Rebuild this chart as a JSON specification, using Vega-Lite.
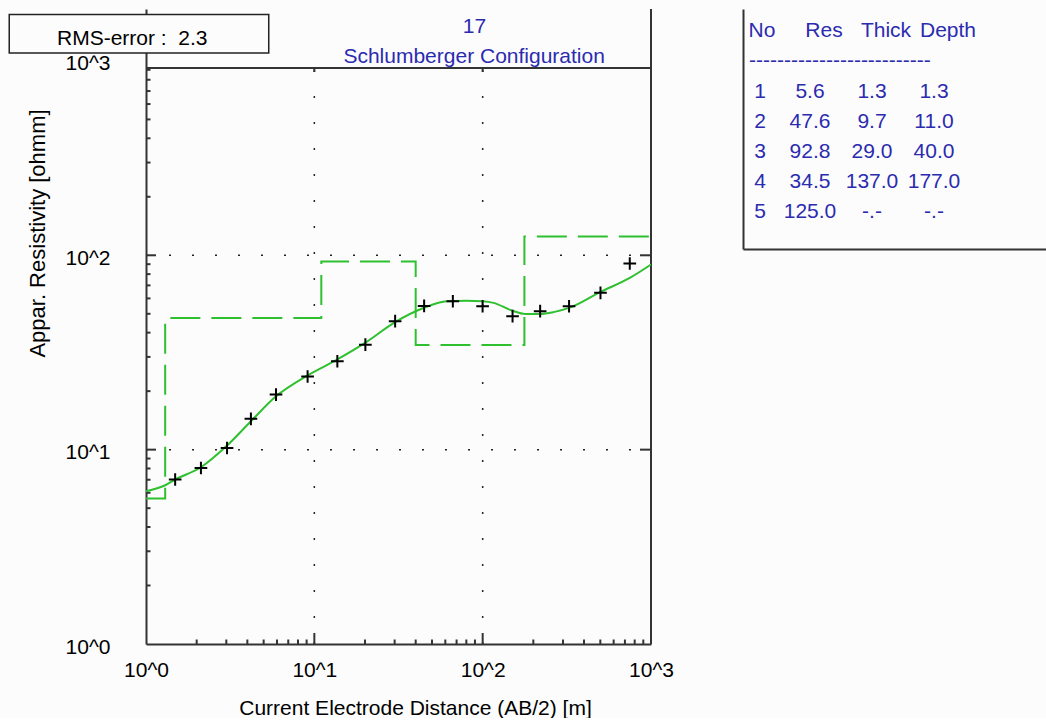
{
  "$schema": "https://vega.github.io/schema/vega-lite/v6.json",
  "background": "#fcfcfc",
  "padding": {"left": 8, "top": 8, "right": 0, "bottom": 0},
  "config": {
    "view": {"stroke": null},
    "font": "Liberation Sans, Arial, sans-serif",
    "text": {"font": "Liberation Sans, Arial, sans-serif"}
  },
  "datasets": {
    "soundings": [
      {"x": 1.49, "y": 7.02}, {"x": 2.12, "y": 8.05}, {"x": 3.03, "y": 10.2}, {"x": 4.2, "y": 14.4},
      {"x": 5.92, "y": 19.2}, {"x": 9.12, "y": 23.8}, {"x": 13.7, "y": 28.5}, {"x": 20.1, "y": 34.7},
      {"x": 30.2, "y": 45.8}, {"x": 44.9, "y": 54.9}, {"x": 66.5, "y": 58.0}, {"x": 99.9, "y": 54.7},
      {"x": 150.5, "y": 48.6}, {"x": 219.5, "y": 51.6}, {"x": 326, "y": 54.7}, {"x": 501, "y": 64.1},
      {"x": 748, "y": 90.7}
    ],
    "fit": [
      {"x": 1, "y": 6.11}, {"x": 1.3, "y": 6.56}, {"x": 1.49, "y": 7.02}, {"x": 2.12, "y": 8.12},
      {"x": 3.03, "y": 10.5}, {"x": 4.2, "y": 14.0}, {"x": 5.92, "y": 18.8}, {"x": 9.12, "y": 24.1},
      {"x": 13.7, "y": 29.1}, {"x": 20.1, "y": 35.5}, {"x": 30.2, "y": 45.3}, {"x": 44.9, "y": 53.7},
      {"x": 61.3, "y": 58.0}, {"x": 80, "y": 58.4}, {"x": 99.9, "y": 58.0}, {"x": 116, "y": 56.9},
      {"x": 149, "y": 52.0}, {"x": 179, "y": 49.9}, {"x": 219.5, "y": 49.9}, {"x": 264, "y": 51.0},
      {"x": 326, "y": 53.6}, {"x": 501, "y": 64.8}, {"x": 748, "y": 76.5}, {"x": 1000, "y": 89.7}
    ],
    "model": [
      {"x": 1, "y": 5.6}, {"x": 1.3, "y": 47.6}, {"x": 11, "y": 92.8}, {"x": 40, "y": 34.5},
      {"x": 177, "y": 125}, {"x": 1000, "y": 125}
    ],
    "major": [{"x": 10, "y": 10}, {"x": 100, "y": 100}],
    "minor": [
      {"x": 2, "y": 2}, {"x": 3, "y": 3}, {"x": 4, "y": 4}, {"x": 5, "y": 5}, {"x": 6, "y": 6}, {"x": 7, "y": 7}, {"x": 8, "y": 8}, {"x": 9, "y": 9},
      {"x": 20, "y": 20}, {"x": 30, "y": 30}, {"x": 40, "y": 40}, {"x": 50, "y": 50}, {"x": 60, "y": 60}, {"x": 70, "y": 70}, {"x": 80, "y": 80}, {"x": 90, "y": 90},
      {"x": 200, "y": 200}, {"x": 300, "y": 300}, {"x": 400, "y": 400}, {"x": 500, "y": 500}, {"x": 600, "y": 600}, {"x": 700, "y": 700}, {"x": 800, "y": 800}, {"x": 900, "y": 900}
    ],
    "layers": [
      {"No": 1, "Res": 5.6, "Thick": 1.3, "Depth": 1.3},
      {"No": 2, "Res": 47.6, "Thick": 9.7, "Depth": 11.0},
      {"No": 3, "Res": 92.8, "Thick": 29.0, "Depth": 40.0},
      {"No": 4, "Res": 34.5, "Thick": 137.0, "Depth": 177.0},
      {"No": 5, "Res": 125.0, "Thick": null, "Depth": null}
    ]
  },
  "bounds": "flush",
  "spacing": 92,
  "hconcat": [
    {
      "width": 505,
      "height": 635,
      "layer": [
        {
          "data": {"name": "major"},
          "mark": {"type": "rule", "strokeDash": [2, 24], "strokeWidth": 1.5, "color": "#222222"},
          "encoding": {
            "x": {"field": "x", "type": "quantitative", "scale": {"type": "log", "domain": [1, 1000], "nice": false}},
            "y": {"datum": 1, "type": "quantitative", "scale": {"type": "log", "domain": [1, 1850], "nice": false}},
            "y2": {"datum": 920}
          }
        },
        {
          "data": {"name": "major"},
          "mark": {"type": "rule", "strokeDash": [2, 21], "strokeWidth": 1.5, "color": "#222222"},
          "encoding": {
            "y": {"field": "y", "type": "quantitative", "scale": {"type": "log", "domain": [1, 1850], "nice": false}},
            "x": {"datum": 1, "type": "quantitative", "scale": {"type": "log", "domain": [1, 1000], "nice": false}},
            "x2": {"datum": 1000}
          }
        },
        {
          "data": {"values": [{}]},
          "mark": {"type": "rule", "strokeWidth": 2, "color": "#333333"},
          "encoding": {
            "y": {"datum": 920, "type": "quantitative", "scale": {"type": "log", "domain": [1, 1850], "nice": false}},
            "x": {"datum": 1, "type": "quantitative", "scale": {"type": "log", "domain": [1, 1000], "nice": false}},
            "x2": {"datum": 1000}
          }
        },
        {
          "data": {"values": [{}]},
          "mark": {"type": "rule", "strokeWidth": 2, "color": "#333333"},
          "encoding": {
            "x": {"datum": 1000, "type": "quantitative", "scale": {"type": "log", "domain": [1, 1000], "nice": false}},
            "y": {"datum": 1, "type": "quantitative", "scale": {"type": "log", "domain": [1, 1850], "nice": false}},
            "y2": {"datum": 1850}
          }
        },
        {
          "data": {"name": "minor"},
          "mark": {"type": "tick", "orient": "vertical", "size": 9, "thickness": 2, "color": "#333333", "clip": true, "opacity": 1},
          "encoding": {
            "x": {"field": "x", "type": "quantitative", "scale": {"type": "log", "domain": [1, 1000], "nice": false}},
            "y": {"datum": 1, "type": "quantitative", "scale": {"type": "log", "domain": [1, 1850], "nice": false}}
          }
        },
        {
          "data": {"name": "major"},
          "mark": {"type": "tick", "orient": "vertical", "size": 22, "thickness": 2, "color": "#333333", "clip": true, "opacity": 1},
          "encoding": {
            "x": {"field": "x", "type": "quantitative", "scale": {"type": "log", "domain": [1, 1000], "nice": false}},
            "y": {"datum": 1, "type": "quantitative", "scale": {"type": "log", "domain": [1, 1850], "nice": false}}
          }
        },
        {
          "data": {"name": "minor"},
          "mark": {"type": "tick", "orient": "horizontal", "size": 9, "thickness": 2, "color": "#333333", "clip": true, "opacity": 1},
          "encoding": {
            "y": {"field": "y", "type": "quantitative", "scale": {"type": "log", "domain": [1, 1850], "nice": false}},
            "x": {"datum": 1, "type": "quantitative", "scale": {"type": "log", "domain": [1, 1000], "nice": false}}
          }
        },
        {
          "data": {"name": "major"},
          "mark": {"type": "tick", "orient": "horizontal", "size": 20, "thickness": 2, "color": "#333333", "clip": true, "opacity": 1},
          "encoding": {
            "y": {"field": "y", "type": "quantitative", "scale": {"type": "log", "domain": [1, 1850], "nice": false}},
            "x": {"datum": 1, "type": "quantitative", "scale": {"type": "log", "domain": [1, 1000], "nice": false}}
          }
        },
        {
          "data": {"name": "major"},
          "mark": {"type": "tick", "orient": "horizontal", "size": 22, "thickness": 2, "color": "#333333", "clip": true, "opacity": 1},
          "encoding": {
            "y": {"field": "y", "type": "quantitative", "scale": {"type": "log", "domain": [1, 1850], "nice": false}},
            "x": {"datum": 1000, "type": "quantitative", "scale": {"type": "log", "domain": [1, 1000], "nice": false}}
          }
        },
        {
          "data": {"name": "major"},
          "mark": {"type": "rule", "strokeWidth": 2, "color": "#333333"},
          "encoding": {
            "x": {"field": "x", "type": "quantitative", "scale": {"type": "log", "domain": [1, 1000], "nice": false}},
            "y": {"datum": 920, "type": "quantitative", "scale": {"type": "log", "domain": [1, 1850], "nice": false}},
            "y2": {"datum": 877}
          }
        },
        {
          "data": {"name": "model"},
          "mark": {"type": "line", "interpolate": "step-after", "strokeDash": [30, 11], "strokeWidth": 2, "color": "#2ec02e"},
          "encoding": {
            "x": {"field": "x", "type": "quantitative", "scale": {"type": "log", "domain": [1, 1000], "nice": false}},
            "y": {"field": "y", "type": "quantitative", "scale": {"type": "log", "domain": [1, 1850], "nice": false}}
          }
        },
        {
          "data": {"name": "fit"},
          "mark": {"type": "line", "interpolate": "monotone", "strokeWidth": 2, "color": "#2ec02e"},
          "encoding": {
            "x": {"field": "x", "type": "quantitative", "scale": {"type": "log", "domain": [1, 1000], "nice": false}},
            "y": {"field": "y", "type": "quantitative", "scale": {"type": "log", "domain": [1, 1850], "nice": false}}
          }
        },
        {
          "data": {"name": "soundings"},
          "mark": {"type": "point", "shape": "M-1,0H1M0,-1V1", "size": 160, "filled": false, "stroke": "#000000", "strokeWidth": 2, "opacity": 1},
          "encoding": {
            "x": {
              "field": "x", "type": "quantitative",
              "scale": {"type": "log", "domain": [1, 1000], "nice": false},
              "axis": {
                "values": [1, 10, 100, 1000],
                "labelExpr": "'10^' + round(log(datum.value)/LN10)",
                "ticks": false, "grid": false,
                "domainColor": "#333333", "domainWidth": 2,
                "labelFontSize": 21, "labelColor": "#000000", "labelPadding": 15,
                "labelFlush": false, "labelOverlap": false,
                "title": "Current Electrode Distance (AB/2) [m]",
                "titleFontSize": 21, "titleFontWeight": "normal", "titleColor": "#000000",
                "titleX": 269, "titleY": 64, "titleBaseline": "middle", "titleAlign": "center"
              }
            },
            "y": {
              "field": "y", "type": "quantitative",
              "scale": {"type": "log", "domain": [1, 1850], "nice": false},
              "axis": {
                "values": [1, 10, 100, 1000],
                "labelExpr": "'10^' + round(log(datum.value)/LN10)",
                "ticks": false, "grid": false,
                "domainColor": "#333333", "domainWidth": 2,
                "labelFontSize": 21, "labelColor": "#000000", "labelPadding": 36, "labelOffset": 3,
                "labelBaseline": "middle", "labelOverlap": false, "labelFlush": false,
                "title": "Appar. Resistivity [ohmm]",
                "titleFontSize": 22, "titleFontWeight": "normal", "titleColor": "#000000",
                "titleX": -109, "titleY": 224, "titleBaseline": "middle", "titleAlign": "center", "titleAngle": 270
              }
            }
          }
        },
        {
          "data": {"values": [{}]},
          "mark": {"type": "rect", "fill": "#fcfcfc", "stroke": "#222222", "strokeWidth": 1.5},
          "encoding": {
            "x": {"datum": 0.154, "type": "quantitative", "scale": {"type": "log", "domain": [1, 1000], "nice": false}},
            "x2": {"datum": 5.36},
            "y": {"datum": 1099, "type": "quantitative", "scale": {"type": "log", "domain": [1, 1850], "nice": false}},
            "y2": {"datum": 1732}
          }
        },
        {
          "data": {"values": [{}]},
          "mark": {"type": "text", "align": "left", "baseline": "alphabetic", "fontSize": 21, "color": "#000000"},
          "encoding": {
            "x": {"datum": 0.296, "type": "quantitative", "scale": {"type": "log", "domain": [1, 1000], "nice": false}},
            "y": {"datum": 1204, "type": "quantitative", "scale": {"type": "log", "domain": [1, 1850], "nice": false}},
            "text": {"value": "RMS-error :\u00a0 2.3"}
          }
        },
        {
          "data": {"values": [{}]},
          "mark": {"type": "text", "align": "center", "baseline": "alphabetic", "fontSize": 21, "color": "#2b2bb0"},
          "encoding": {
            "x": {"datum": 89.4, "type": "quantitative", "scale": {"type": "log", "domain": [1, 1000], "nice": false}},
            "y": {"datum": 1392, "type": "quantitative", "scale": {"type": "log", "domain": [1, 1850], "nice": false}},
            "text": {"value": "17"}
          }
        },
        {
          "data": {"values": [{}]},
          "mark": {"type": "text", "align": "center", "baseline": "alphabetic", "fontSize": 21, "color": "#2b2bb0"},
          "encoding": {
            "x": {"datum": 89, "type": "quantitative", "scale": {"type": "log", "domain": [1, 1000], "nice": false}},
            "y": {"datum": 976, "type": "quantitative", "scale": {"type": "log", "domain": [1, 1850], "nice": false}},
            "text": {"value": "Schlumberger Configuration"}
          }
        }
      ]
    },
    {
      "width": 310,
      "height": 240,
      "data": {"name": "layers"},
      "layer": [
        {
          "data": {"values": [{"col": "No"}, {"col": "Res"}, {"col": "Thick"}, {"col": "Depth"}]},
          "mark": {"type": "text", "align": "center", "baseline": "middle", "fontSize": 21, "color": "#2b2bb0", "dx": 2},
          "encoding": {
            "x": {"field": "col", "type": "nominal", "scale": {"type": "point", "domain": ["No", "Res", "Thick", "Depth"], "padding": 1, "align": 0.137},
                  "axis": {"labels": false, "ticks": false, "title": null, "grid": false, "domainColor": "#333333", "domainWidth": 2}},
            "y": {"datum": -1, "type": "quantitative", "scale": {"type": "linear", "domain": [-1.741, 6.232], "reverse": true, "nice": false, "zero": false},
                  "axis": {"labels": false, "ticks": false, "title": null, "grid": false, "domainColor": "#333333", "domainWidth": 2}},
            "text": {"field": "col", "type": "nominal"}
          }
        },
        {
          "data": {"values": [{}]},
          "mark": {"type": "text", "align": "left", "baseline": "middle", "fontSize": 21, "color": "#2b2bb0", "dx": -11},
          "encoding": {
            "x": {"datum": "No", "type": "nominal", "scale": {"type": "point", "domain": ["No", "Res", "Thick", "Depth"], "padding": 1, "align": 0.137}},
            "y": {"datum": 0, "type": "quantitative", "scale": {"type": "linear", "domain": [-1.741, 6.232], "reverse": true, "nice": false, "zero": false}},
            "text": {"value": "--------------------------"}
          }
        },
        {
          "mark": {"type": "text", "align": "center", "baseline": "middle", "fontSize": 21, "color": "#2b2bb0"},
          "encoding": {
            "x": {"datum": "No", "type": "nominal", "scale": {"type": "point", "domain": ["No", "Res", "Thick", "Depth"], "padding": 1, "align": 0.137}},
            "y": {"field": "No", "type": "quantitative", "scale": {"type": "linear", "domain": [-1.741, 6.232], "reverse": true, "nice": false, "zero": false}},
            "text": {"field": "No", "type": "quantitative", "format": "d"}
          }
        },
        {
          "transform": [{"fold": ["Res", "Thick", "Depth"]}],
          "mark": {"type": "text", "align": "center", "baseline": "middle", "fontSize": 21, "color": "#2b2bb0", "dx": -12},
          "encoding": {
            "x": {"field": "key", "type": "nominal", "scale": {"type": "point", "domain": ["No", "Res", "Thick", "Depth"], "padding": 1, "align": 0.137}},
            "y": {"field": "No", "type": "quantitative", "scale": {"type": "linear", "domain": [-1.741, 6.232], "reverse": true, "nice": false, "zero": false}},
            "text": {"field": "value", "type": "quantitative", "format": ".1f", "condition": {"test": "datum.value == null", "value": "-.-"}}
          }
        }
      ]
    }
  ]
}
